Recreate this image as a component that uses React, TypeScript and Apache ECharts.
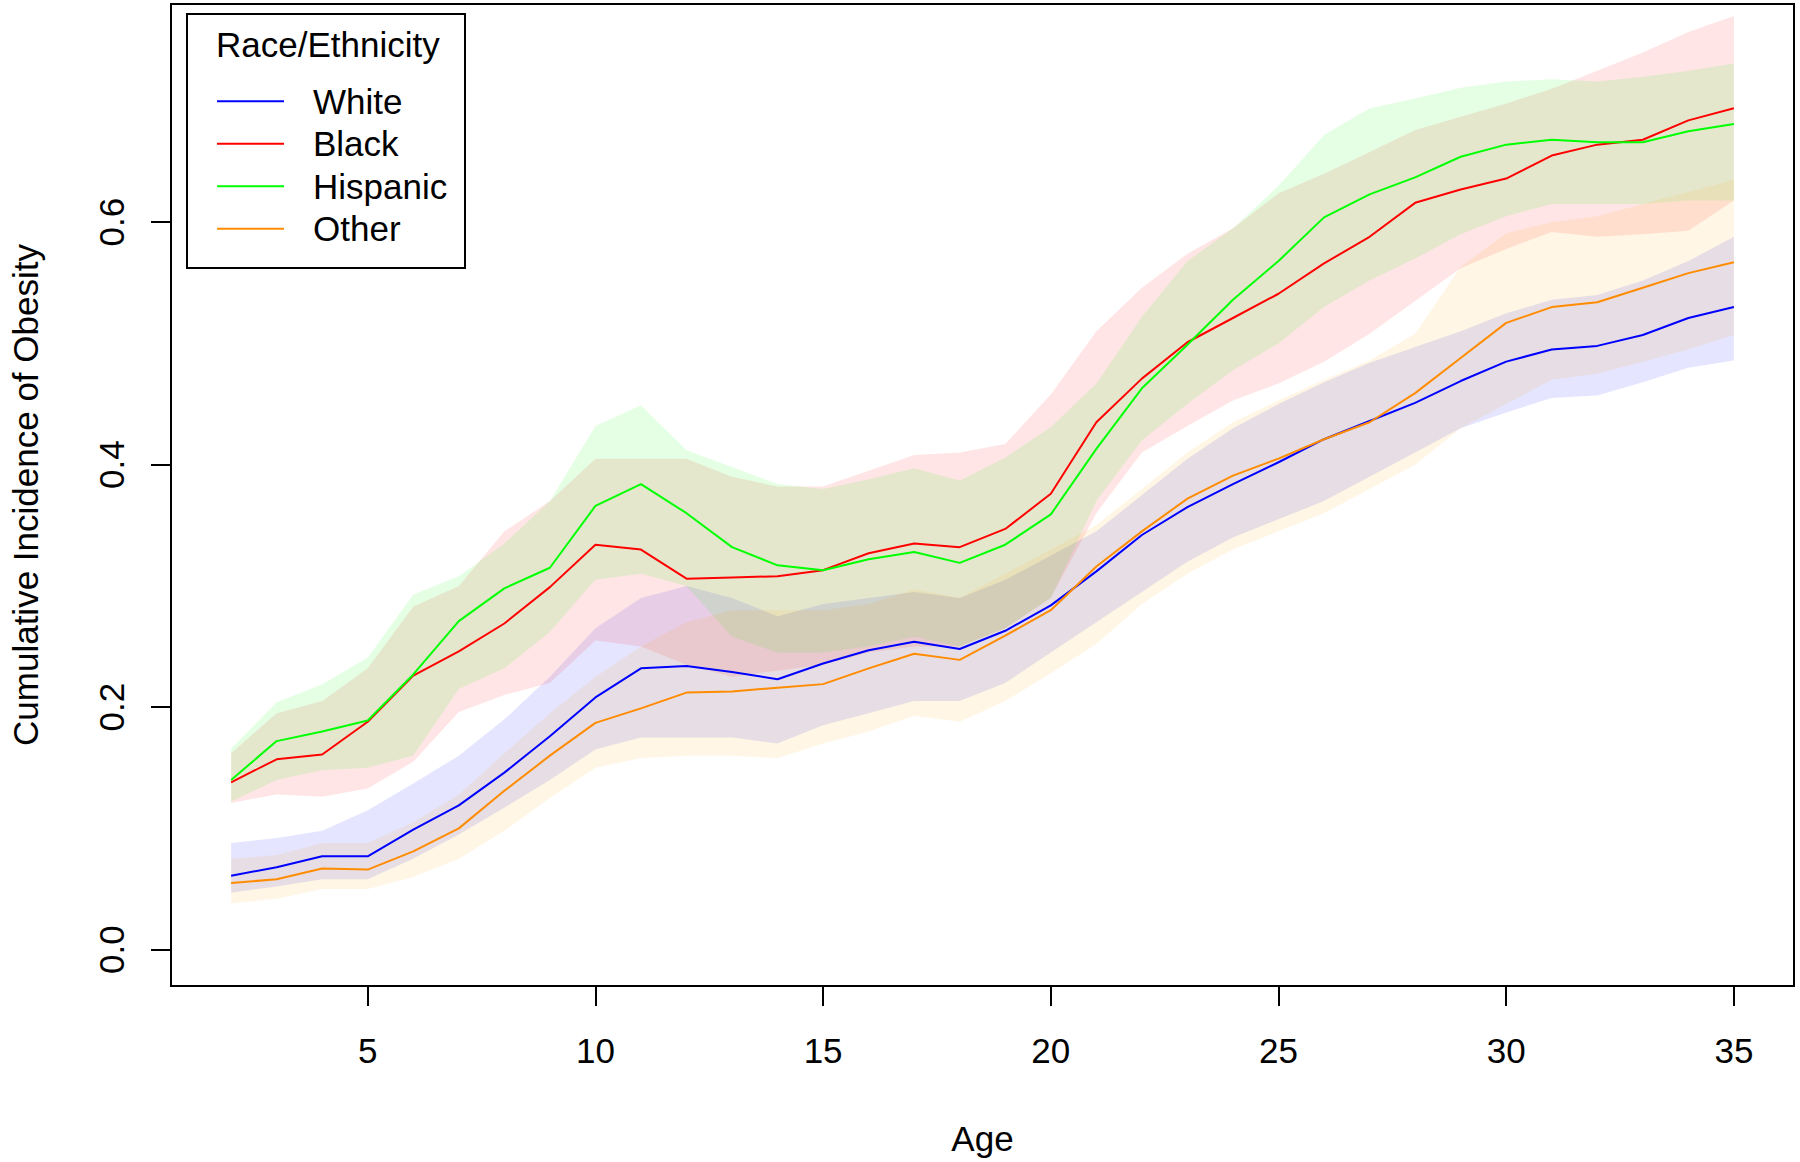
import React, { useEffect, useRef } from "react";
import * as echarts from "echarts";

const ages = [2, 3, 4, 5, 6, 7, 8, 9, 10, 11, 12, 13, 14, 15, 16, 17, 18, 19, 20, 21, 22, 23, 24, 25, 26, 27, 28, 29, 30, 31, 32, 33, 34, 35];

const whiteMean = [0.061, 0.068, 0.077, 0.077, 0.099, 0.119, 0.146, 0.176, 0.208, 0.232, 0.234, 0.229, 0.223, 0.236, 0.247, 0.254, 0.248, 0.263, 0.284, 0.312, 0.342, 0.365, 0.384, 0.402, 0.421, 0.436, 0.451, 0.469, 0.485, 0.495, 0.498, 0.507, 0.521, 0.530];
const whiteLower = [0.047, 0.052, 0.058, 0.058, 0.075, 0.095, 0.117, 0.140, 0.165, 0.175, 0.175, 0.175, 0.170, 0.185, 0.195, 0.205, 0.205, 0.220, 0.245, 0.270, 0.295, 0.320, 0.340, 0.355, 0.370, 0.390, 0.410, 0.430, 0.443, 0.455, 0.457, 0.468, 0.480, 0.486];
const whiteUpper = [0.088, 0.092, 0.098, 0.115, 0.137, 0.160, 0.190, 0.225, 0.265, 0.290, 0.300, 0.290, 0.275, 0.285, 0.290, 0.295, 0.290, 0.305, 0.325, 0.345, 0.375, 0.405, 0.430, 0.450, 0.468, 0.484, 0.497, 0.510, 0.525, 0.536, 0.540, 0.552, 0.568, 0.588];

const blackMean = [0.138, 0.157, 0.161, 0.188, 0.226, 0.246, 0.269, 0.299, 0.334, 0.330, 0.306, 0.307, 0.308, 0.313, 0.327, 0.335, 0.332, 0.347, 0.376, 0.435, 0.471, 0.501, 0.521, 0.541, 0.566, 0.588, 0.616, 0.627, 0.636, 0.655, 0.664, 0.668, 0.684, 0.694];
const blackLower = [0.121, 0.128, 0.126, 0.133, 0.155, 0.196, 0.210, 0.220, 0.255, 0.250, 0.235, 0.225, 0.230, 0.235, 0.245, 0.250, 0.250, 0.265, 0.290, 0.360, 0.410, 0.432, 0.453, 0.467, 0.485, 0.508, 0.535, 0.562, 0.578, 0.592, 0.588, 0.590, 0.593, 0.618];
const blackUpper = [0.162, 0.195, 0.205, 0.232, 0.283, 0.300, 0.345, 0.370, 0.405, 0.405, 0.405, 0.390, 0.382, 0.382, 0.395, 0.408, 0.410, 0.417, 0.458, 0.510, 0.546, 0.574, 0.595, 0.624, 0.640, 0.658, 0.676, 0.687, 0.698, 0.710, 0.725, 0.740, 0.757, 0.770];

const hispanicMean = [0.140, 0.172, 0.180, 0.189, 0.227, 0.271, 0.298, 0.315, 0.366, 0.384, 0.360, 0.332, 0.317, 0.313, 0.322, 0.328, 0.319, 0.334, 0.359, 0.413, 0.463, 0.499, 0.536, 0.568, 0.604, 0.623, 0.637, 0.654, 0.664, 0.668, 0.666, 0.666, 0.675, 0.681];
const hispanicLower = [0.122, 0.140, 0.148, 0.150, 0.160, 0.215, 0.232, 0.262, 0.305, 0.310, 0.300, 0.258, 0.245, 0.245, 0.250, 0.258, 0.250, 0.265, 0.290, 0.370, 0.420, 0.450, 0.478, 0.500, 0.530, 0.552, 0.570, 0.590, 0.605, 0.615, 0.615, 0.615, 0.618, 0.618];
const hispanicUpper = [0.166, 0.204, 0.219, 0.241, 0.293, 0.308, 0.335, 0.370, 0.432, 0.449, 0.412, 0.398, 0.384, 0.380, 0.388, 0.397, 0.387, 0.406, 0.431, 0.467, 0.522, 0.568, 0.595, 0.630, 0.672, 0.694, 0.702, 0.711, 0.716, 0.718, 0.716, 0.720, 0.725, 0.731];

const otherMean = [0.055, 0.058, 0.067, 0.066, 0.081, 0.100, 0.131, 0.160, 0.187, 0.199, 0.212, 0.213, 0.216, 0.219, 0.232, 0.244, 0.239, 0.259, 0.280, 0.316, 0.345, 0.372, 0.391, 0.405, 0.421, 0.435, 0.459, 0.488, 0.517, 0.530, 0.534, 0.546, 0.558, 0.567];
const otherLower = [0.038, 0.042, 0.050, 0.050, 0.060, 0.075, 0.098, 0.125, 0.150, 0.158, 0.160, 0.160, 0.158, 0.170, 0.180, 0.193, 0.188, 0.205, 0.228, 0.252, 0.285, 0.310, 0.330, 0.345, 0.360, 0.380, 0.400, 0.430, 0.450, 0.470, 0.475, 0.485, 0.495, 0.507];
const otherUpper = [0.075, 0.078, 0.088, 0.088, 0.105, 0.128, 0.162, 0.195, 0.225, 0.250, 0.270, 0.280, 0.280, 0.280, 0.285, 0.297, 0.290, 0.310, 0.330, 0.350, 0.380, 0.410, 0.435, 0.453, 0.470, 0.486, 0.508, 0.563, 0.591, 0.600, 0.605, 0.615, 0.625, 0.635];

const xTicks = [5, 10, 15, 20, 25, 30, 35];
const yTicks = [0, 0.2, 0.4, 0.6];
const legendTitle = "Race/Ethnicity";
const groupNames = ["White", "Black", "Hispanic", "Other"];

const FONT = "'Liberation Sans', Arial, sans-serif";

export default function App() {
  const ref = useRef<HTMLDivElement>(null);

  useEffect(() => {
    if (!ref.current) return;
    const chart = echarts.init(ref.current, null, { renderer: "svg" });

    const groups = [
      { name: groupNames[0], color: "#0000FF", band: "rgba(0,0,255,0.1)", mean: whiteMean, lower: whiteLower, upper: whiteUpper },
      { name: groupNames[1], color: "#FF0000", band: "rgba(255,0,0,0.1)", mean: blackMean, lower: blackLower, upper: blackUpper },
      { name: groupNames[2], color: "#00FF00", band: "rgba(0,255,0,0.1)", mean: hispanicMean, lower: hispanicLower, upper: hispanicUpper },
      { name: groupNames[3], color: "#FF8C00", band: "rgba(255,165,0,0.1)", mean: otherMean, lower: otherLower, upper: otherUpper },
    ];

    const series: any[] = [];
    groups.forEach((g) => {
      series.push({
        type: "custom",
        name: g.name + " CI",
        data: ages.map((a, i) => [a, g.lower[i], g.upper[i]]),
        encode: { x: 0, y: [1, 2] },
        silent: true,
        z: 1,
        renderItem: (params: any, api: any) => {
          if (params.dataIndex !== 0) return null;
          const pts: number[][] = [];
          for (let i = 0; i < ages.length; i++) {
            pts.push(api.coord([ages[i], g.upper[i]]));
          }
          for (let i = ages.length - 1; i >= 0; i--) {
            pts.push(api.coord([ages[i], g.lower[i]]));
          }
          return {
            type: "polygon",
            shape: { points: pts },
            style: { fill: g.band, stroke: "none" },
          };
        },
      });
    });
    groups.forEach((g) => {
      series.push({
        type: "line",
        name: g.name,
        data: ages.map((a, i) => [a, g.mean[i]]),
        symbol: "none",
        lineStyle: { color: g.color, width: 2 },
        itemStyle: { color: g.color },
        z: 3,
      });
    });

    const option: any = {
      animation: false,
      backgroundColor: "#ffffff",
      grid: {
        left: 169,
        top: 4,
        width: 1625,
        height: 982,
        show: true,
        borderColor: "#000",
        borderWidth: 2,
        backgroundColor: "transparent",
      },
      xAxis: {
        type: "value",
        min: 0.68,
        max: 36.32,
        axisLine: { show: false, onZero: false },
        splitLine: { show: false },
        axisTick: {
          show: true,
          customValues: xTicks,
          length: 20,
          lineStyle: { color: "#000", width: 2 },
        },
        axisLabel: {
          customValues: xTicks,
          margin: 47,
          fontSize: 35,
          color: "#000",
          fontFamily: FONT,
        },
        name: "Age",
        nameLocation: "middle",
        nameGap: 135,
        nameTextStyle: { fontSize: 35, color: "#000", fontFamily: FONT },
      },
      yAxis: {
        type: "value",
        min: -0.03,
        max: 0.78,
        axisLine: { show: false, onZero: false },
        splitLine: { show: false },
        axisTick: {
          show: true,
          customValues: yTicks,
          length: 20,
          lineStyle: { color: "#000", width: 2 },
        },
        axisLabel: {
          customValues: yTicks,
          rotate: 90,
          margin: 42,
          fontSize: 35,
          color: "#000",
          fontFamily: FONT,
          formatter: (v: number) => v.toFixed(1),
        },
        name: "Cumulative Incidence of Obesity",
        nameLocation: "middle",
        nameRotate: 90,
        nameGap: 128,
        nameTextStyle: { fontSize: 35, color: "#000", fontFamily: FONT },
      },
      legend: {
        data: groupNames,
        orient: "vertical",
        left: 217,
        top: 80,
        icon: "rect",
        itemWidth: 67,
        itemHeight: 2,
        itemGap: 0,
        padding: 0,
        selectedMode: false,
        textStyle: {
          fontSize: 35,
          lineHeight: 42.5,
          padding: [0, 0, 0, 24],
          color: "#000",
          fontFamily: FONT,
        },
      },
      graphic: [
        {
          type: "rect",
          shape: { x: 187, y: 14, width: 278, height: 254 },
          style: { fill: "none", stroke: "#000", lineWidth: 2 },
          z: 10,
        },
        {
          type: "text",
          x: 216,
          y: 44,
          style: {
            text: legendTitle,
            fontSize: 35,
            fontFamily: FONT,
            fill: "#000",
            textVerticalAlign: "middle",
          },
          z: 10,
        },
      ],
      series,
    };

    chart.setOption(option);
    return () => chart.dispose();
  }, []);

  return (
    <div
      ref={ref}
      style={{ position: "absolute", left: 0, top: 0, width: 1800, height: 1162 }}
    />
  );
}
